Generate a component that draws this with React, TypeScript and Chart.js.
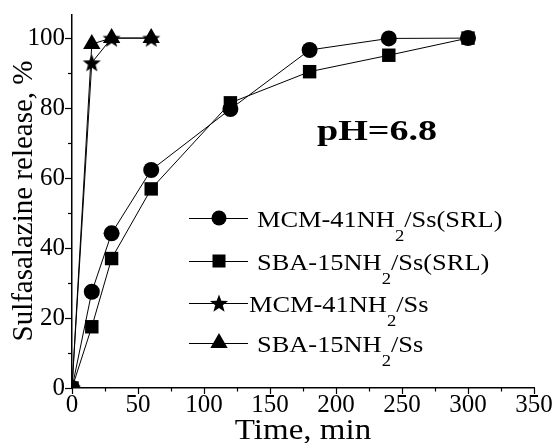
import React, { useEffect, useRef } from 'react';
import { Chart, registerables } from 'chart.js';

Chart.register(...registerables);

// ---- data ----
const timeSRL = [0, 15, 30, 60, 120, 180, 240, 300];
const mcmSRL = [0, 27.5, 44.2, 62.3, 79.7, 96.6, 99.9, 100];
const sbaSRL = [0, 17.5, 37.0, 56.9, 81.5, 90.4, 95.1, 100];
const timeFree = [0, 15, 30, 60];
const mcmFree = [0, 93, 100, 100];
const sbaFree = [0, 98.3, 100, 100];

const seriesNames = [
  ['MCM-41NH', '2', '/Ss(SRL)'],
  ['SBA-15NH', '2', '/Ss(SRL)'],
  ['MCM-41NH', '2', '/Ss'],
  ['SBA-15NH', '2', '/Ss'],
];
const xMajorTicks = [0, 50, 100, 150, 200, 250, 300, 350];
const yMajorTicks = [0, 20, 40, 60, 80, 100];
const xMinorTicks = [25, 75, 125, 175, 225, 275, 325];
const yMinorTicks = [10, 30, 50, 70, 90];
const xTitle = 'Time, min';
const yTitle = 'Sulfasalazine release, %';
const annotationText = 'pH=6.8';

const FONT = '"Liberation Serif", "Times New Roman", Times, serif';

function makeStar(outer: number, inner: number): HTMLCanvasElement {
  const size = Math.ceil(outer * 2 + 2);
  const c = document.createElement('canvas');
  c.width = size;
  c.height = size;
  const ctx = c.getContext('2d')!;
  drawStar(ctx, size / 2, size / 2 + outer * 0.1, outer, inner);
  return c;
}

function drawStar(ctx: CanvasRenderingContext2D, cx: number, cy: number, outer: number, inner: number) {
  ctx.beginPath();
  for (let i = 0; i < 10; i++) {
    const r = i % 2 === 0 ? outer : inner;
    const a = -Math.PI / 2 + (i * Math.PI) / 5;
    const x = cx + r * Math.cos(a);
    const y = cy + r * Math.sin(a);
    if (i === 0) ctx.moveTo(x, y);
    else ctx.lineTo(x, y);
  }
  ctx.closePath();
  ctx.fillStyle = '#000';
  ctx.fill();
}

// draw text horizontally stretched by sx, starting at (x, y); returns advance width
function stretchedText(ctx: CanvasRenderingContext2D, text: string, x: number, y: number, sx: number): number {
  ctx.save();
  ctx.translate(x, y);
  ctx.scale(sx, 1);
  ctx.fillText(text, 0, 0);
  const w = ctx.measureText(text).width * sx;
  ctx.restore();
  return w;
}

const decorPlugin = {
  id: 'decor',
  afterDraw(chart: any) {
    const ctx: CanvasRenderingContext2D = chart.ctx;
    const xs = chart.scales.x;
    const ys = chart.scales.y;
    const area = chart.chartArea;
    ctx.save();
    ctx.strokeStyle = '#000';
    ctx.lineWidth = 1.2;
    const tick = (vals: number[], len: number, horiz: boolean) => {
      vals.forEach((v) => {
        ctx.beginPath();
        if (horiz) {
          const px = Math.round(xs.getPixelForValue(v)) + 0.5;
          ctx.moveTo(px, area.bottom);
          ctx.lineTo(px, area.bottom + len);
        } else {
          const py = Math.round(ys.getPixelForValue(v)) + 0.5;
          ctx.moveTo(area.left, py);
          ctx.lineTo(area.left - len, py);
        }
        ctx.stroke();
      });
    };
    tick(xMajorTicks, 6, true);
    tick(xMinorTicks, 3.5, true);
    tick(yMajorTicks, 7, false);
    tick(yMinorTicks, 4, false);

    ctx.fillStyle = '#000';
    ctx.textBaseline = 'alphabetic';

    // axis titles
    ctx.font = `30px ${FONT}`;
    ctx.textAlign = 'left';
    {
      const sx = 1.1;
      const w = ctx.measureText(xTitle).width * sx;
      const cx = (area.left + area.right) / 2;
      stretchedText(ctx, xTitle, cx - w / 2, 439, sx);
    }
    ctx.font = `29px ${FONT}`;
    ctx.save();
    ctx.translate(32, 201);
    ctx.rotate(-Math.PI / 2);
    ctx.textAlign = 'center';
    ctx.fillText(yTitle, 0, 0);
    ctx.restore();

    // annotation
    ctx.font = `bold 30px ${FONT}`;
    ctx.textAlign = 'left';
    stretchedText(ctx, annotationText, 317, 140, 1.27);

    // legend
    const rows = [218, 261, 303, 343];
    const textX = [257, 257, 249, 257];
    const mx = 219;
    rows.forEach((ry, i) => {
      ctx.strokeStyle = '#000';
      ctx.lineWidth = 1;
      ctx.beginPath();
      ctx.moveTo(189, ry + 0.5);
      ctx.lineTo(248, ry + 0.5);
      ctx.stroke();
      ctx.fillStyle = '#000';
      ctx.beginPath();
      if (i === 0) {
        ctx.arc(mx, ry, 7.5, 0, Math.PI * 2);
        ctx.fill();
      } else if (i === 1) {
        ctx.fillRect(mx - 6.5, ry - 6.5, 13, 13);
      } else if (i === 2) {
        drawStar(ctx, mx, ry + 1, 9.5, 4);
      } else {
        const r = 10;
        ctx.moveTo(mx, ry - r);
        ctx.lineTo(mx + r * 0.866, ry + r / 2);
        ctx.lineTo(mx - r * 0.866, ry + r / 2);
        ctx.closePath();
        ctx.fill();
      }
      const [a, sub, b] = seriesNames[i];
      const base = ry + 9;
      const sx = 1.1;
      let x = textX[i];
      ctx.font = `24px ${FONT}`;
      x += stretchedText(ctx, a, x, base, sx);
      ctx.font = `17px ${FONT}`;
      x += stretchedText(ctx, sub, x, base + 14, sx);
      ctx.font = `24px ${FONT}`;
      stretchedText(ctx, b, x, base, sx);
    });
    ctx.restore();
  },
};

export default function App() {
  const ref = useRef<HTMLCanvasElement>(null);
  useEffect(() => {
    let chart: Chart | null = null;
    let cancelled = false;
    const build = () => {
      if (cancelled || !ref.current) return;
      const star = makeStar(9.5, 4);
      const common = {
        borderColor: '#000',
        backgroundColor: '#000',
        pointBackgroundColor: '#000',
        pointBorderColor: '#000',
        borderWidth: 1,
        pointBorderWidth: 0,
        tension: 0,
        fill: false,
      };
      chart = new Chart(ref.current, {
        type: 'line',
        data: {
          datasets: [
            { ...common, label: 'MCM-41NH2/Ss(SRL)', data: timeSRL.map((t, i) => ({ x: t, y: mcmSRL[i] })), pointStyle: 'circle', pointRadius: 8 },
            { ...common, label: 'SBA-15NH2/Ss(SRL)', data: timeSRL.map((t, i) => ({ x: t, y: sbaSRL[i] })), pointStyle: 'rect', pointRadius: 9.5 },
            { ...common, label: 'MCM-41NH2/Ss', data: timeFree.map((t, i) => ({ x: t, y: mcmFree[i] })), pointStyle: star as any, pointRadius: 9 },
            { ...common, label: 'SBA-15NH2/Ss', data: timeFree.map((t, i) => ({ x: t, y: sbaFree[i] })), pointStyle: 'triangle', pointRadius: 10 },
          ],
        },
        options: {
          animation: false,
          responsive: false,
          events: [],
          layout: { padding: { top: 15, right: 24, left: 0, bottom: 0 } },
          plugins: { legend: { display: false }, tooltip: { enabled: false } },
          scales: {
            x: {
              type: 'linear',
              min: 0,
              max: 350,
              afterFit: (s: any) => { s.height = 55; s.paddingLeft = 0; s.paddingRight = 0; },
              afterBuildTicks: (s: any) => { s.ticks = xMajorTicks.map((v) => ({ value: v })); },
              grid: { display: false, drawTicks: false },
              border: { display: true, color: '#000', width: 1.5 },
              ticks: { color: '#000', font: { family: FONT, size: 25 }, padding: 2, maxRotation: 0, autoSkip: false },
              title: { display: false, text: xTitle },
            },
            y: {
              type: 'linear',
              min: 0,
              max: 106.6,
              afterFit: (s: any) => { s.width = 72; s.paddingTop = 0; s.paddingBottom = 0; },
              afterBuildTicks: (s: any) => { s.ticks = yMajorTicks.map((v) => ({ value: v })); },
              grid: { display: false, drawTicks: false },
              border: { display: true, color: '#000', width: 1.5 },
              ticks: { color: '#000', font: { family: FONT, size: 25 }, padding: 7, autoSkip: false },
              title: { display: false, text: yTitle },
            },
          },
        },
        plugins: [decorPlugin],
      });
    };
    const fonts: any = (document as any).fonts;
    if (fonts && fonts.load) {
      Promise.all([
        fonts.load(`25px "Liberation Serif"`),
        fonts.load(`bold 30px "Liberation Serif"`),
      ]).then(build, build);
    } else {
      build();
    }
    return () => {
      cancelled = true;
      if (chart) chart.destroy();
    };
  }, []);
  return (
    <div style={{ position: 'fixed', left: 0, top: 0, width: 558, height: 443, background: '#fff' }}>
      <canvas ref={ref} width={558} height={443} style={{ display: 'block' }} />
    </div>
  );
}
